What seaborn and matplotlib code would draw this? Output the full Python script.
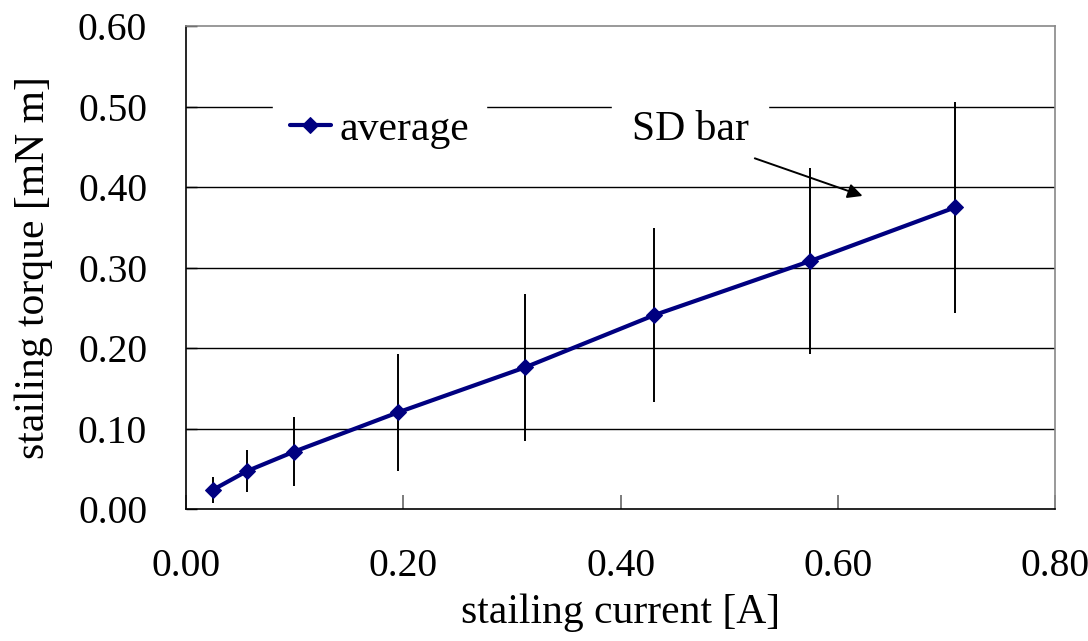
import matplotlib
matplotlib.use("Agg")
import matplotlib.pyplot as plt
import seaborn as sns
import pandas as pd
import numpy as np

current = [0.025, 0.056, 0.099, 0.195, 0.312, 0.431, 0.574, 0.708]
torque = [0.024, 0.047, 0.071, 0.120, 0.176, 0.241, 0.308, 0.375]
sd = [0.016, 0.026, 0.043, 0.073, 0.091, 0.108, 0.116, 0.131]

xticks = [0.0, 0.2, 0.4, 0.6, 0.8]
yticks = [0.0, 0.1, 0.2, 0.3, 0.4, 0.5, 0.6]

sns.set_theme(style="white")
plt.rcParams['font.family'] = ['Liberation Serif', 'DejaVu Serif']
plt.rcParams['text.color'] = 'black'
plt.rcParams['axes.labelcolor'] = 'black'
plt.rcParams['xtick.color'] = 'black'
plt.rcParams['ytick.color'] = 'black'

FS_TICK = 28.5
FS = 30

df = pd.DataFrame({"current": current, "torque": torque, "sd": sd})

fig = plt.figure(figsize=(10.88, 6.41), dpi=100)
ax = fig.add_axes([0.171, 0.206, 0.799, 0.753])

ax.errorbar(df["current"], df["torque"], yerr=df["sd"], fmt="none",
            ecolor="black", elinewidth=1.4, capsize=0, zorder=2)
sns.lineplot(data=df, x="current", y="torque", ax=ax, color="#000080",
             linewidth=3, marker="D", markersize=8, markeredgecolor="#000080",
             label="average", zorder=3)

ax.set_xlim(0, 0.8)
ax.set_ylim(0, 0.6)
ax.set_xticks(xticks)
ax.set_yticks(yticks)
ax.set_xticklabels([f"{v:.2f}" for v in xticks])
ax.set_yticklabels([f"{v:.2f}" for v in yticks])
for y in yticks[1:-1]:
    ax.axhline(y, color="black", lw=1.0, zorder=1)

ax.tick_params(axis="x", direction="in", length=10, width=1.2, pad=28, labelsize=FS_TICK,
               color="#666666", labelcolor="black", bottom=True)
ax.tick_params(axis="y", direction="in", length=8, width=1, pad=28, labelsize=FS_TICK,
               labelcolor="black", left=True)
for s in ["left", "bottom"]:
    ax.spines[s].set_color("black")
    ax.spines[s].set_linewidth(1.2)
for s in ["top", "right"]:
    ax.spines[s].set_color("#888888")
    ax.spines[s].set_linewidth(1.2)

ax.set_xlabel("stailing current [A]", fontsize=FS, labelpad=6, color="black")
ax.set_ylabel("stailing torque [mN m]", fontsize=FS, labelpad=18, color="black")

leg = ax.legend(loc="center left", bbox_to_anchor=(0.076, 0.786), frameon=True,
                fontsize=FS, handlelength=1.0, handletextpad=0.2,
                borderpad=0.4, fancybox=False)
leg.get_frame().set_edgecolor("white")
leg.get_frame().set_facecolor("white")
leg.get_frame().set_alpha(1)
for t in leg.get_texts():
    t.set_color("black")

ax.text(0.464, 0.472, "SD bar", fontsize=FS, ha="center", va="center", zorder=4,
        color="black", bbox=dict(facecolor="white", edgecolor="white", pad=14))
ax.annotate("", xy=(0.625, 0.388), xytext=(0.521, 0.437),
            arrowprops=dict(arrowstyle="-|>", color="black", lw=1.4,
                            mutation_scale=22), zorder=4)

fig.savefig("out.png", dpi=100)
